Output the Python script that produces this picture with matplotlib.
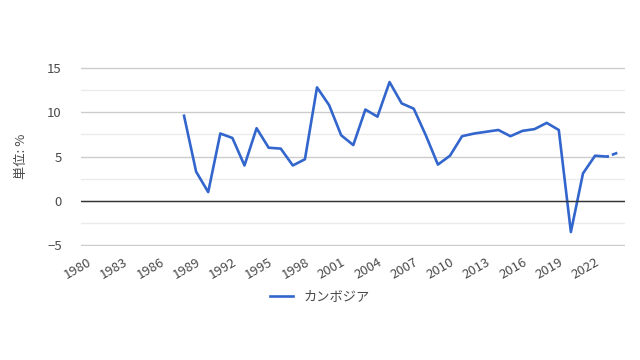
import matplotlib

matplotlib.use("Agg")
import matplotlib.pyplot as plt
import numpy as np

plt.rcParams["font.family"] = ["Noto Sans CJK JP", "DejaVu Sans"]

years = list(range(1988, 2024))
growth = [
    9.6, 3.3, 1.0, 7.6, 7.1, 4.0, 8.2, 6.0, 5.9, 4.0,
    4.7, 12.8, 10.8, 7.4, 6.3, 10.3, 9.5, 13.4, 11.0, 10.4,
    7.4, 4.1, 5.1, 7.3, 7.6, 7.8, 8.0, 7.3, 7.9, 8.1,
    8.8, 8.0, -3.5, 3.1, 5.1, 5.0,
]
forecast_years = [2023, 2024]
forecast_growth = [5.0, 5.5]
tick_years = list(range(1980, 2023, 3))
series_name = "カンボジア"
unit_label = "単位: %"

LINE_COLOR = "#3366cc"
TEXT_COLOR = "#4a4a4a"

fig = plt.figure(figsize=(6.4, 3.6), dpi=100)
ax = fig.add_axes([0.127, 0.316, 0.85, 0.498])

ax.plot(years, growth, color=LINE_COLOR, linewidth=1.9, label=series_name)
ax.plot(forecast_years, forecast_growth, color=LINE_COLOR, linewidth=1.9,
        linestyle=(1.5, (2.2, 1.2)), dash_capstyle="butt")

ax.set_xlim(1979.5, 2024.5)
ax.set_ylim(-5.1, 15.1)
ax.set_yticks([-5, 0, 5, 10, 15])
ax.set_yticks(np.arange(-5, 15, 2.5), minor=True)
ax.grid(True, which="major", axis="y", color="#cccccc", linewidth=1)
ax.grid(True, which="minor", axis="y", color="#ebebeb", linewidth=1)
ax.axhline(0, color="#333333", linewidth=1)
ax.set_axisbelow(True)
ax.set_xticks(tick_years)
ax.set_xticklabels([str(y) for y in tick_years], rotation=30, ha="right", rotation_mode="anchor")
ax.tick_params(axis="both", which="both", length=0, labelsize=9.5, colors=TEXT_COLOR)
ax.tick_params(axis="y", pad=14)
ax.tick_params(axis="x", pad=7)
for spine in ax.spines.values():
    spine.set_visible(False)

ax.set_ylabel(unit_label, fontsize=9.5, color=TEXT_COLOR, labelpad=14)

fig.legend(
    handles=ax.get_lines()[:1],
    loc="center",
    bbox_to_anchor=(0.5, 0.175),
    frameon=False,
    fontsize=9.5,
    labelcolor=TEXT_COLOR,
    handlelength=1.8,
)

fig.savefig("out.png", dpi=100, facecolor="white")
